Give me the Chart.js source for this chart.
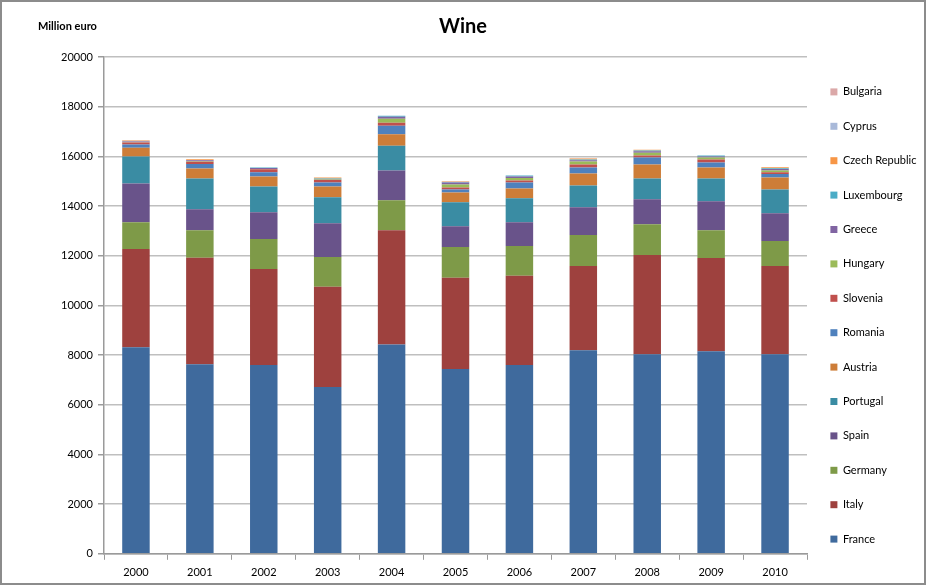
<!DOCTYPE html>
<html lang="en">
<head>
    <meta charset="UTF-8">
    <title>Wine</title>
    <script src="https://cdn.jsdelivr.net/npm/chart.js@4.4.1/dist/chart.umd.min.js"></script>
    <style>
        body { margin: 0; background: #fff; }
        #wrap { width: 926px; height: 585px; }
    </style>
</head>
<body>
    <div id="wrap"><canvas id="wine" width="926" height="585"></canvas></div>
    <script>
        // million euro, stacked bottom to top
        const years = ['2000','2001','2002','2003','2004','2005','2006','2007','2008','2009','2010'];
        const france     = [8320, 7630, 7600, 6720, 8430, 7440, 7600, 8190, 8030, 8150, 8030];
        const italy      = [3950, 4290, 3870, 4030, 4600, 3670, 3590, 3400, 4000, 3760, 3560];
        const germany    = [1080, 1110, 1200, 1200, 1200, 1240, 1200, 1240, 1240, 1120, 1000];
        const spain      = [1560,  840, 1080, 1360, 1200,  840,  960, 1120, 1000, 1160, 1120];
        const portugal   = [1080, 1240, 1040, 1040, 1000,  960,  960,  880,  840,  920,  960];
        const austria    = [ 360,  400,  400,  440,  460,  400,  400,  480,  560,  440,  480];
        const romania    = [ 130,  180,  170,  160,  340,  120,  240,  240,  280,  200,  140];
        const slovenia   = [  80,   90,  120,  100,  120,   80,   80,  120,   80,  120,   70];
        const hungary    = [  10,   20,   10,   20,  160,  120,  100,  120,  120,   80,   70];
        const greece     = [  30,   40,   40,   20,   80,   80,   60,   50,   60,   40,   60];
        const luxembourg = [  10,   10,   20,   20,   40,   20,   40,   30,   30,   40,   30];
        const czech      = [  30,   30,    0,   40,    0,   20,    0,   40,   30,    0,   40];
        const cyprus     = [  10,    0,    0,    0,    0,   10,    0,    0,    0,    0,    0];
        const bulgaria   = [   0,    0,    0,    0,    0,    0,    0,   10,    0,    0,    0];
        const yTicks = [0, 2000, 4000, 6000, 8000, 10000, 12000, 14000, 16000, 18000, 20000];

        const series = [
            ['France', france, '#3f6a9d'],
            ['Italy', italy, '#9e413e'],
            ['Germany', germany, '#7e9a48'],
            ['Spain', spain, '#69538a'],
            ['Portugal', portugal, '#3a8ca3'],
            ['Austria', austria, '#cd7d38'],
            ['Romania', romania, '#4f81bd'],
            ['Slovenia', slovenia, '#c0504d'],
            ['Hungary', hungary, '#9bbb59'],
            ['Greece', greece, '#8064a2'],
            ['Luxembourg', luxembourg, '#4bacc6'],
            ['Czech Republic', czech, '#f79646'],
            ['Cyprus', cyprus, '#a9b9d9'],
            ['Bulgaria', bulgaria, '#dba8a8']
        ];

        const fontFam = 'Lato, "Open Sans", sans-serif';

        // white background, outer frame and the unit label
        const extras = {
            id: 'extras',
            beforeDraw(chart) {
                const c = chart.ctx;
                c.save();
                c.fillStyle = '#fff';
                c.fillRect(0, 0, chart.width, chart.height);
                c.strokeStyle = '#8c8c8c';
                c.lineWidth = 2;
                c.strokeRect(1, 1, chart.width - 2, chart.height - 2);
                c.restore();
            },
            afterDraw(chart) {
                const c = chart.ctx;
                c.save();
                c.font = 'bold 11px ' + fontFam;
                c.fillStyle = '#000';
                c.textBaseline = 'middle';
                c.fillText('Million euro', 38, 26);
                c.restore();
            }
        };

        new Chart(document.getElementById('wine'), {
            type: 'bar',
            data: {
                labels: years,
                datasets: series.map(s => ({
                    label: s[0],
                    data: s[1],
                    backgroundColor: s[2],
                    borderWidth: 0,
                    barPercentage: 0.43,
                    categoryPercentage: 1
                }))
            },
            options: {
                responsive: false,
                animation: false,
                layout: { padding: 0 },
                plugins: {
                    title: {
                        display: true,
                        text: 'Wine',
                        color: '#000',
                        font: { family: fontFam, size: 20, weight: 'bold' },
                        padding: { top: 15, bottom: 18 }
                    },
                    legend: {
                        position: 'right',
                        reverse: true,
                        maxWidth: 119,
                        // empty title only pushes the list down
                        title: { display: true, text: '', font: { size: 11 }, padding: { top: 32.8, bottom: 0 } },
                        labels: {
                            boxWidth: 7,
                            boxHeight: 7,
                            padding: 23.4,
                            color: '#000',
                            font: { family: fontFam, size: 11 }
                        }
                    },
                    tooltip: { enabled: false }
                },
                scales: {
                    x: {
                        stacked: true,
                        grid: { drawOnChartArea: false, color: '#9a9a9a', tickLength: 6 },
                        border: { color: '#9a9a9a', width: 1.5 },
                        ticks: { color: '#000', padding: 6, font: { family: fontFam, size: 11 } }
                    },
                    y: {
                        stacked: true,
                        min: 0,
                        max: 20000,
                        afterFit(scale) { scale.width = 104; },
                        afterBuildTicks(scale) { scale.ticks = yTicks.map(v => ({ value: v })); },
                        grid: { color: '#bfbfbf', lineWidth: 1.5, tickLength: 6, tickColor: '#9a9a9a' },
                        border: { color: '#9a9a9a', width: 1.5 },
                        ticks: {
                            color: '#000',
                            padding: 5,
                            font: { family: fontFam, size: 11 },
                            callback: v => String(v)
                        }
                    }
                }
            },
            plugins: [extras]
        });
    </script>
</body>
</html>
